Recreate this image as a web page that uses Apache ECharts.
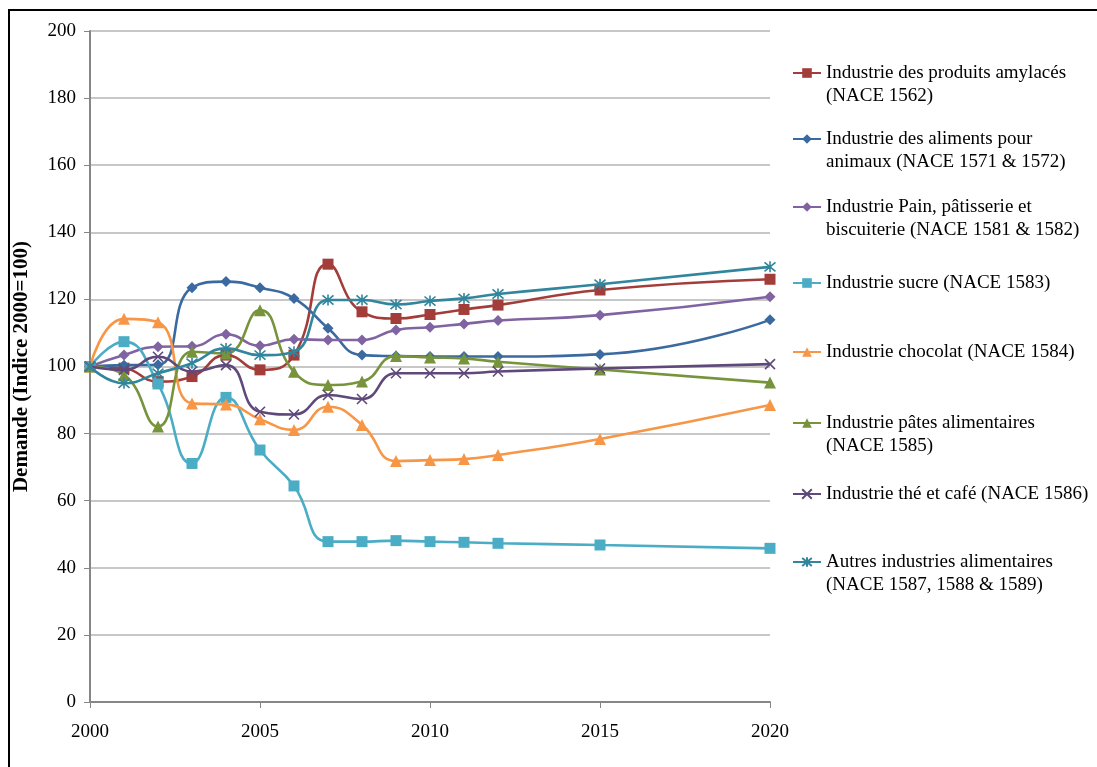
<!DOCTYPE html>
<html>
<head>
<meta charset="utf-8">
<script src="https://cdn.jsdelivr.net/npm/echarts@6/dist/echarts.min.js"></script>
<style>
  html, body { margin: 0; padding: 0; background: #ffffff; }
  #chart { width: 1097px; height: 767px; }
</style>
</head>
<body>
<div id="chart"></div>
<script>
// Years on the horizontal axis
const years = [2000, 2001, 2002, 2003, 2004, 2005, 2006, 2007, 2008, 2009, 2010, 2011, 2012, 2015, 2020];

// Demand index per branch (2000 = 100)
const amylaces = [100, 99.5, 95.5, 97, 103.4, 99, 103.4, 130.5, 116.3, 114.3, 115.5, 117, 118.3, 122.8, 126];
const animaux  = [100, 100.4, 100.5, 123.5, 125.3, 123.5, 120.3, 111.4, 103.4, 103.1, 103, 103, 103, 103.6, 113.9];
const pain     = [100, 103.4, 105.9, 106, 109.6, 106.2, 108.1, 107.9, 107.9, 110.9, 111.7, 112.7, 113.7, 115.3, 120.8];
const sucre    = [100, 107.4, 94.8, 71.1, 90.8, 75.1, 64.4, 47.8, 47.8, 48.1, 47.8, 47.6, 47.3, 46.8, 45.8];
const chocolat = [100, 114.2, 113.2, 89, 88.7, 84.3, 81.1, 88, 82.6, 71.8, 72.1, 72.4, 73.6, 78.4, 88.5];
const pates    = [100, 97.5, 82.1, 104.4, 103.9, 116.8, 98.4, 94.5, 95.5, 103.1, 102.7, 102.4, 101.4, 99.1, 95.2];
const theCafe  = [100, 99, 102.9, 98.5, 100.4, 86.5, 85.7, 91.5, 90.3, 98, 98, 98, 98.5, 99.4, 100.7];
const autres   = [100, 95, 98, 101, 105.4, 103.4, 104.4, 119.8, 119.8, 118.5, 119.5, 120.3, 121.6, 124.5, 129.7];

// Series names, split into the lines shown in the legend
const seriesLines = [
  ['Industrie des produits amylacés', '(NACE 1562)'],
  ['Industrie des aliments pour', 'animaux (NACE 1571 & 1572)'],
  ['Industrie Pain, pâtisserie et', 'biscuiterie (NACE 1581 & 1582)'],
  ['Industrie sucre (NACE 1583)'],
  ['Industrie chocolat (NACE 1584)'],
  ['Industrie pâtes alimentaires', '(NACE 1585)'],
  ['Industrie thé et café (NACE 1586)'],
  ['Autres industries alimentaires', '(NACE 1587, 1588 & 1589)']
];

const yTicks = { min: 0, max: 200, interval: 20 };
const xTicks = { min: 2000, max: 2020, interval: 5 };
const yTitle = 'Demande (Indice 2000=100)';

const valuesList = [amylaces, animaux, pain, sucre, chocolat, pates, theCafe, autres];
const colors = ['#A33D3A', '#3A6AA0', '#8064A2', '#4BACC6', '#F79646', '#77933C', '#5F497A', '#31859C'];
const symbols = [
  'rect', 'diamond', 'diamond', 'rect', 'triangle', 'triangle',
  'path://M0,0L10,10M10,0L0,10',
  'path://M0,0L10,10M10,0L0,10M5,-1L5,11'
];
const symbolSizes = [11, 11, 11, 11, 12, 12, 10, 11];
const legendCenters = [73, 139, 207, 283, 352, 423, 494, 562];

const FONT = 'Liberation Serif';
const LH = 23;

const names = seriesLines.map(l => l.join(' '));

const series = valuesList.map((vals, i) => {
  const isPath = symbols[i].startsWith('path');
  return {
    name: names[i],
    type: 'line',
    data: years.map((y, k) => [y, vals[k]]),
    smooth: 0.5,
    symbol: symbols[i],
    symbolSize: symbolSizes[i],
    showSymbol: true,
    lineStyle: { color: colors[i], width: 2.6 },
    itemStyle: isPath
      ? { color: colors[i], borderColor: colors[i], borderWidth: 1.6 }
      : { color: colors[i] },
    emphasis: { disabled: true },
    animation: false,
    z: 2 + i
  };
});

// One legend block per series; two-line entries keep the marker beside the first line
const legends = names.map((n, i) => {
  const two = seriesLines[i].length > 1;
  return {
    data: [n],
    left: 792,
    top: legendCenters[i] - (two ? 1.5 * LH : 0.5 * LH),
    padding: 0,
    itemWidth: 28,
    itemHeight: 12,
    selectedMode: false,
    formatter: name => {
      const lines = seriesLines[names.indexOf(name)];
      return lines.length > 1 ? ' \n' + lines.join('\n') : lines[0];
    },
    textStyle: { fontFamily: FONT, fontSize: 19, color: '#000', lineHeight: LH }
  };
});

const chart = echarts.init(document.getElementById('chart'), null, { renderer: 'canvas' });
chart.setOption({
  backgroundColor: '#ffffff',
  animation: false,
  grid: { left: 90, right: 327, top: 31, bottom: 65, containLabel: false },
  xAxis: {
    type: 'value',
    min: xTicks.min, max: xTicks.max, interval: xTicks.interval,
    axisLine: { show: true, lineStyle: { color: '#868686', width: 2 } },
    axisTick: { show: true, inside: false, length: 6, lineStyle: { color: '#868686', width: 1 } },
    axisLabel: { color: '#000', fontFamily: FONT, fontSize: 19, margin: 21, formatter: v => String(v) },
    splitLine: { show: false }
  },
  yAxis: {
    type: 'value',
    min: yTicks.min, max: yTicks.max, interval: yTicks.interval,
    name: yTitle,
    nameLocation: 'middle',
    nameGap: 58,
    nameRotate: 90,
    nameTextStyle: { fontFamily: FONT, fontSize: 21, fontWeight: 'bold', color: '#000' },
    axisLine: { show: true, lineStyle: { color: '#868686', width: 2 } },
    axisTick: { show: true, inside: false, length: 6, lineStyle: { color: '#868686', width: 1 } },
    axisLabel: { color: '#000', fontFamily: FONT, fontSize: 19, margin: 14 },
    splitLine: { show: true, lineStyle: { color: '#B5B5B5', width: 1.5 } }
  },
  legend: legends,
  graphic: [{
    type: 'rect',
    shape: { x: 9, y: 10, width: 1200, height: 900 },
    style: { fill: null, stroke: '#000', lineWidth: 2 },
    silent: true,
    z: 100
  }],
  series: series
});
</script>
</body>
</html>
